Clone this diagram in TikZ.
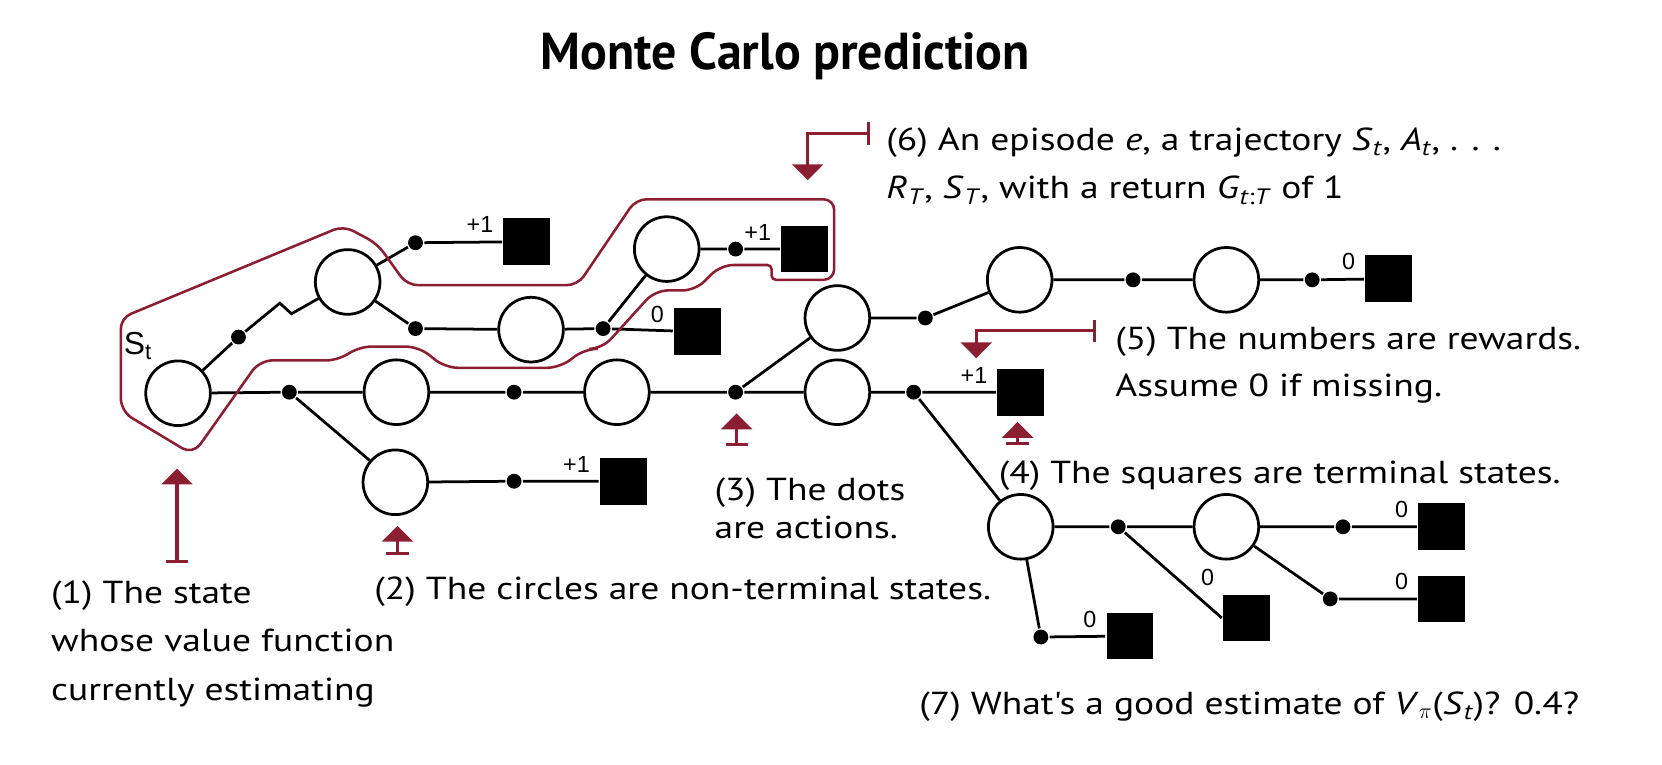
\documentclass[tikz,border=0pt]{standalone}
\usepackage{fontspec}
\usepackage{tikz}
\usetikzlibrary{arrows.meta}
\setmainfont{PT Sans}
\newfontfamily\handfont[FakeStretch=1.18]{PT Sans}
\newfontfamily\titlefont[FakeStretch=0.96]{PT Sans}
\newfontfamily\numfont{Liberation Sans}
\definecolor{epired}{RGB}{140,30,50}
\newcommand{\vsub}[2]{\textit{#1}\textsubscript{\textit{#2}}}

\begin{document}
\begin{tikzpicture}
[x=1pt,y=-1pt,line width=2.6pt,
 st/.style={circle,draw,fill=white,minimum size=61pt,inner sep=0pt},
 act/.style={circle,fill,minimum size=14pt,inner sep=0pt},
 term/.style={rectangle,fill,minimum size=44pt,inner sep=0pt},
 numlab/.style={font=\numfont\fontsize{22}{22}\selectfont,inner sep=2pt},
 rew/.style={label={[numlab,yshift=16pt,xshift=-5pt]left:#1}},
 note/.style={font=\handfont\fontsize{30}{45}\selectfont,anchor=base west,align=left,inner sep=0pt},
 pin/.style={epired,line width=3pt,{Bar[width=21pt]}-{Triangle[width=29pt,length=15pt]}}]
\useasboundingbox (0,0) rectangle (1568,721);

\node[anchor=base] (ttl) at (741,66) {\titlefont\bfseries\fontsize{49}{49}\selectfont Monte Carlo prediction};

\node[st,label={[font=\numfont\fontsize{30}{30}\selectfont,inner sep=1pt,yshift=7pt]above left:S\textsubscript{t}}] (s0) at (168,371) {};
\node[st] (s1) at (328,266) {};
\node[st] (s2) at (374,370) {};
\node[st] (s3) at (373,455) {};
\node[st] (s4) at (501,311) {};
\node[st] (s5) at (582,370) {};
\node[st] (s6) at (629,235) {};
\node[st] (s7) at (790,300) {};
\node[st] (s8) at (790,370) {};
\node[st] (s9) at (962,264) {};
\node[st] (s10) at (1157,264) {};
\node[st] (s11) at (963,497) {};
\node[st] (s12) at (1157,497) {};

\node[act] (a1) at (225,318) {};
\node[act] (a2) at (392,229) {};
\node[act] (a3) at (392,310) {};
\node[act] (a4) at (569,310) {};
\node[act] (a5) at (694,235) {};
\node[act] (a6) at (273,370) {};
\node[act] (a7) at (485,370) {};
\node[act] (a8) at (694,370) {};
\node[act] (a9) at (873,300) {};
\node[act] (a10) at (862,370) {};
\node[act] (a11) at (1069,264) {};
\node[act] (a12) at (1238,264) {};
\node[act] (a13) at (485,454) {};
\node[act] (a14) at (1055,497) {};
\node[act] (a15) at (1267,497) {};
\node[act] (a16) at (1255,565) {};
\node[act] (a17) at (982,601) {};

\node[term,rew=+1] (t1) at (497,228) {};
\node[term,rew=+1] (t2) at (759,235) {};
\node[term,rew=0] (t3) at (658,313) {};
\node[term,rew=+1] (t4) at (963,370) {};
\node[term,rew=0] (t5) at (1310,263) {};
\node[term,rew=+1] (t6) at (588,454) {};
\node[term,label={[numlab,xshift=-4pt,yshift=4pt]above left:0}] (t7) at (1176,583) {};
\node[term,rew=0] (t8) at (1360,497) {};
\node[term,rew=0] (t9) at (1360,565) {};
\node[term,rew=0] (t10) at (1066,600) {};

\coordinate (z1) at (264,286);
\coordinate (z2) at (275,296);

\draw (s0) -- (a1);
\draw (a1) -- (z1) -- (z2) -- (s1);
\draw (s1) -- (a2) -- (t1);
\draw (s1) -- (a3) -- (s4) -- (a4) -- (t3);
\draw (a4) -- (s6) -- (a5) -- (t2);
\draw (s0) -- (a6) -- (s2) -- (a7) -- (s5) -- (a8) -- (s8) -- (a10) -- (t4);
\draw (a6) -- (s3) -- (a13) -- (t6);
\draw (a8) -- (s7) -- (a9) -- (s9) -- (a11) -- (s10) -- (a12) -- (t5);
\draw (a10) -- (s11) -- (a14) -- (s12) -- (a15) -- (t8);
\draw (a14) -- (t7.west);
\draw (s12) -- (a16) -- (t9);
\draw (s11) -- (a17) -- (t10);

\draw[epired,line width=2.4pt,rounded corners=12pt] (114,300) -- (114,388) -- (182,429) -- (245,340) -- (320,340) -- (338,327) -- (395,327) -- (420,347) -- (528,347) -- (552,329) -- (568,329) -- (618,274) -- (656,274) -- (680,250) [rounded corners=4pt] -- (728,250) -- (728,264) [rounded corners=10pt] -- (787,264) -- (787,188) -- (600,188) -- (545,269) -- (384,269) -- (356,230) -- (324,213) -- cycle;

\coordinate (p1a) at (167,531);
\coordinate (p1b) at (167,442);
\coordinate (p2a) at (375,524);
\coordinate (p2b) at (375,496);
\coordinate (p3a) at (695,421);
\coordinate (p3b) at (695,390);
\coordinate (p4a) at (960,420);
\coordinate (p4b) at (960,398);
\coordinate (p5a) at (1034,312);
\coordinate (p5b) at (921,338);
\coordinate (p6a) at (821,126);
\coordinate (p6b) at (762,170);
\draw[pin] (p1a) -- (p1b);
\draw[pin] (p2a) -- (p2b);
\draw[pin] (p3a) -- (p3b);
\draw[pin] (p4a) -- (p4b);
\draw[pin] (p5a) -| (p5b);
\draw[pin] (p6a) -| (p6b);

\node[note,font=\handfont\fontsize{30}{46}\selectfont] (n1) at (47,661) {(1) The state\\whose value function\\currently estimating};
\node[note] (n2) at (352,566) {(2) The circles are non-terminal states.};
\node[note,font=\handfont\fontsize{30}{36}\selectfont] (n3) at (673,508) {(3) The dots\\are actions.};
\node[note] (n4) at (941,456) {(4) The squares are terminal states.};
\node[note,font=\handfont\fontsize{30}{44}\selectfont] (n5) at (1051,374) {(5) The numbers are rewards.\\Assume 0 if missing.};
\node[note] (n6) at (835,187) {(6) An episode \textit{e}, a trajectory \vsub{S}{t}, \vsub{A}{t}, . . .\\\vsub{R}{T}, \vsub{S}{T}, with a return \textit{G}\textsubscript{\textit{t}:\textit{T}} of 1};
\node[note] (n7) at (866,674) {(7) What's a good estimate of \textit{V}\textsubscript{$\pi$}(\vsub{S}{t})? 0.4?};
\end{tikzpicture}
\end{document}
